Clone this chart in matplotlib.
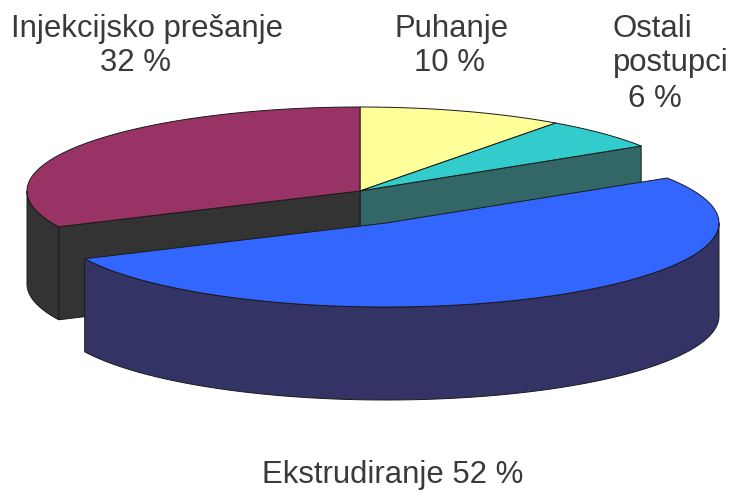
import numpy as np
import matplotlib
matplotlib.use("Agg")
import matplotlib.pyplot as plt
from matplotlib.patches import Polygon

names = ["Puhanje", "Ostali postupci", "Ekstrudiranje", "Injekcijsko prešanje"]
values = [10, 6, 52, 32]
top_colors = ["#FFFF99", "#33CCCC", "#3366FF", "#993366"]
side_colors = ["#808066", "#336666", "#333366", "#333333"]

# layout of the fake 3d pie, in pixels
cx, cy = 360, 191
rx, ry = 333, 84
depth = 93
explode = {2: (26, 32)}
edge = "#1a1a1a"

plt.rcParams["font.family"] = ["Liberation Sans", "DejaVu Sans"]

fig = plt.figure(figsize=(7.34, 4.93), dpi=100)
ax = fig.add_axes([0, 0, 1, 1])
ax.set_xlim(0, 734)
ax.set_ylim(493, 0)
ax.axis("off")


def rim(a0, a1, dx=0, dy=0):
    # angles in degrees, clockwise from 12 o'clock
    t = np.radians(np.linspace(a0, a1, 120))
    return np.column_stack([cx + dx + rx * np.sin(t), cy + dy - ry * np.cos(t)])


def add(points, color, z):
    ax.add_patch(Polygon(points, closed=True, facecolor=color, edgecolor=edge, linewidth=0.7, zorder=z))


stops = np.cumsum([0] + values) * 3.6
down = np.array([0, depth])

for i in range(len(values)):
    a0, a1 = stops[i], stops[i + 1]
    dx, dy = explode.get(i, (0, 0))
    z = 10 if i in explode else 1
    apex = np.array([[cx + dx, cy + dy]])

    # flat cut faces that look to the viewer
    if i not in explode:
        for a in (a0, a1):
            end = rim(a, a, dx, dy)[:1]
            if (a < 90 and a == a1 and a > 0 and i == 1) or (180 < a < 270 and a == a0):
                add(np.vstack([apex, end, end + down, apex + down]), side_colors[i], z)

    # outer wall, only the front half of the ellipse shows
    lo, hi = max(a0, 90), min(a1, 270)
    if lo < hi:
        arc = rim(lo, hi, dx, dy)
        add(np.vstack([arc, arc[::-1] + down]), side_colors[i], z)

for i in range(len(values)):
    dx, dy = explode.get(i, (0, 0))
    z = 11 if i in explode else 2
    add(np.vstack([[[cx + dx, cy + dy]], rim(stops[i], stops[i + 1], dx, dy)]), top_colors[i], z)

font = 22.4
ink = "#3a3a3a"


def label(x, y, s, ha="center"):
    ax.text(x, y, s, ha=ha, va="center", fontsize=font, color=ink)


label(452, 29, names[0])
label(449, 63, f"{values[0]} %")
label(613, 29, names[1].split()[0], ha="left")
label(613, 63, names[1].split()[1], ha="left")
label(655, 99, f"{values[1]} %")
label(393, 475, f"{names[2]} {values[2]} %")
label(147, 29, names[3])
label(135, 63, f"{values[3]} %")

fig.savefig("out.png", dpi=100)
